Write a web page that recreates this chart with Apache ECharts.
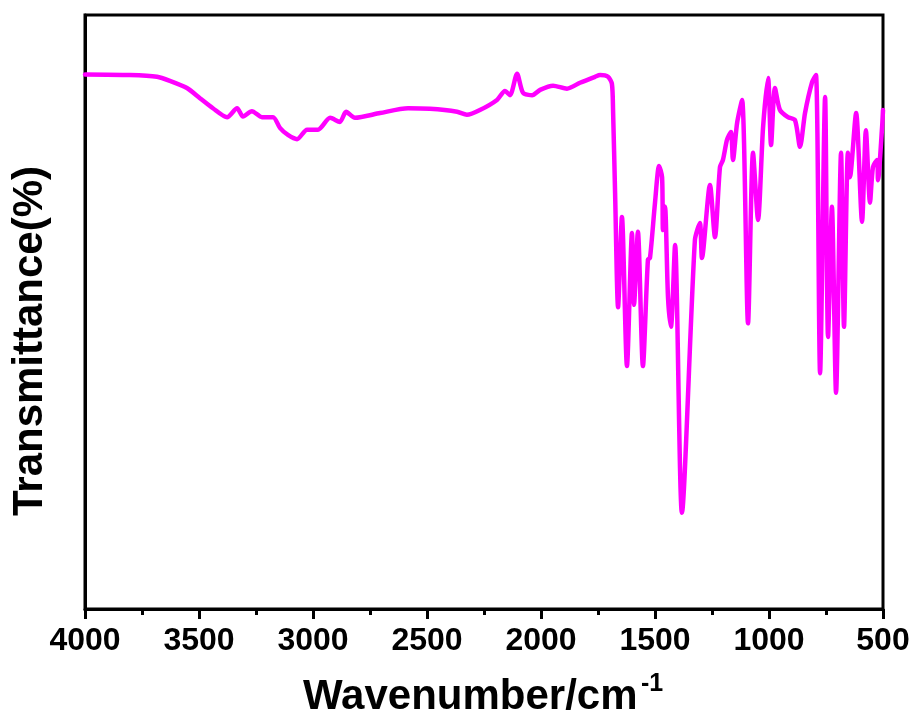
<!DOCTYPE html>
<html>
<head>
<meta charset="utf-8">
<script src="https://cdn.jsdelivr.net/npm/echarts@6/dist/echarts.min.js"></script>
<style>
html,body{margin:0;padding:0;background:#fff;}
#chart{width:917px;height:720px;}
</style>
</head>
<body>
<div id="chart"></div>
<script>
// Wavenumber (cm^-1) and transmittance (arbitrary %)
var wavenumber = [4000,3803,3684,3627,3553,3496,3439,3377,3333,3307,3268,3224,3175,3145,3110,3070,3026,2978,2925,2882,2855,2816,2706,2583,2487,2368,2325,2268,2193,2158,2136,2105,2079,2039,2004,1947,1886,1829,1763,1741,1706,1689,1684,1675,1662,1645,1623,1601,1592,1575,1553,1531,1522,1500,1482,1469,1465,1456,1443,1430,1412,1382,1325,1303,1294,1259,1237,1215,1202,1184,1167,1158,1140,1118,1092,1070,1048,1026,1004,991,974,952,917,886,864,842,811,794,776,754,741,724,706,684,671,654,645,618,592,575,557,544,526,522,504,500];
var transmittance = [90.0,89.9,89.6,88.9,87.7,86.0,84.3,82.8,84.3,82.9,83.8,82.8,82.8,81.0,79.8,79.1,80.7,80.7,82.7,82.0,83.7,82.7,83.5,84.3,84.2,83.7,83.2,84.0,85.7,87.2,86.5,90.1,86.9,86.5,87.4,88.1,87.6,88.6,89.6,89.9,89.6,88.4,84.0,70.0,50.8,66.0,40.9,63.3,51.2,63.5,40.9,58.8,59.1,68.4,74.6,72.7,63.8,67.7,52.5,47.5,61.3,16.2,62.1,65.0,59.1,71.4,62.6,74.4,75.6,79.0,80.3,75.6,81.8,85.7,48.1,76.8,65.5,81.1,89.4,78.1,87.7,84.0,82.8,82.3,77.8,83.5,88.7,89.9,39.7,86.2,45.8,67.7,36.4,76.8,47.5,76.8,72.7,83.5,65.2,80.6,68.4,74.4,75.6,72.2,81.1,84.0];
var xTicks = [4000,3500,3000,2500,2000,1500,1000,500];

var data = wavenumber.map(function(w,i){return [w, transmittance[i]];});

var chart = echarts.init(document.getElementById('chart'));
var font = '"Liberation Sans", Arial, Helvetica, sans-serif';
chart.setOption({
  animation:false,
  grid:{left:85,top:15,width:798,height:594,show:true,borderColor:'#000',borderWidth:3,backgroundColor:'transparent'},
  xAxis:{
    type:'value', inverse:true, min:500, max:4000, interval:500,
    axisLine:{show:true,onZero:false,lineStyle:{color:'#000',width:3}},
    axisTick:{show:true,inside:false,length:10,lineStyle:{color:'#000',width:3}},
    minorTick:{show:true,splitNumber:2,length:6,lineStyle:{color:'#000',width:3}},
    splitLine:{show:false},
    axisLabel:{show:true,margin:16,color:'#000',fontSize:32,fontWeight:'bold',fontFamily:font,
      formatter:function(v){return xTicks.indexOf(v)>=0?String(v):'';}}
  },
  yAxis:{
    type:'value', min:0, max:100,
    axisLine:{show:true,lineStyle:{color:'#000',width:3}},
    axisTick:{show:false}, axisLabel:{show:false}, splitLine:{show:false}
  },
  graphic:[
    {type:'text',x:30,y:341,rotation:Math.PI/2,style:{text:'Transmittance(%)',fontSize:42,fontWeight:'bold',fontFamily:font,fill:'#000',textAlign:'center',textVerticalAlign:'middle'}},
    {type:'text',x:303,y:697,style:{text:'Wavenumber/cm',fontSize:42,fontWeight:'bold',fontFamily:font,fill:'#000',textAlign:'left',textVerticalAlign:'middle'}},
    {type:'text',x:641,y:684,style:{text:'-1',fontSize:25,fontWeight:'bold',fontFamily:font,fill:'#000',textAlign:'left',textVerticalAlign:'middle'}}
  ],
  series:[{
    type:'line', data:data, showSymbol:false, smooth:0.25,
    lineStyle:{color:'#ff00ff',width:4.5,join:'round',cap:'round'}
  }]
});
</script>
</body>
</html>
